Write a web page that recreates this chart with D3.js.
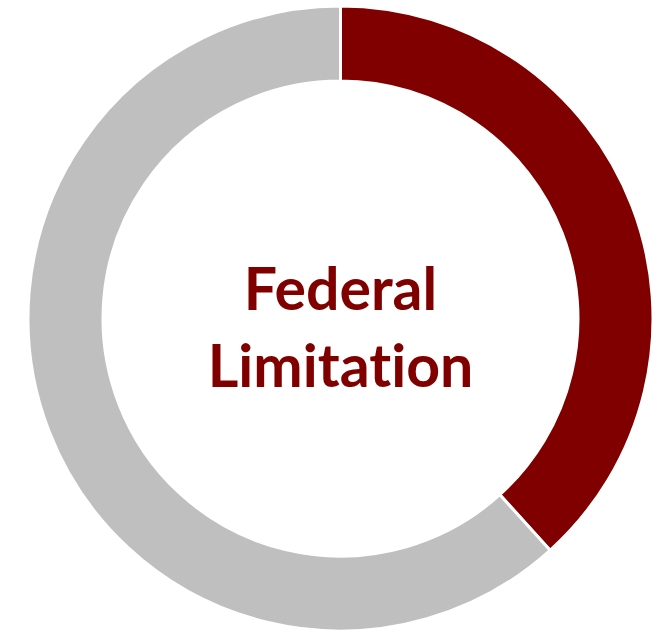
<!DOCTYPE html>
<html>
<head>
<meta charset="utf-8">
<script src="https://cdn.jsdelivr.net/npm/d3@7"></script>
<style>
  body { margin: 0; background: #fff; }
</style>
</head>
<body>
<svg id="chart" width="664" height="630"></svg>
<script>
// slice labels and shares (percent)
var categories = ["Federal Limitation", "Other"];
var values = [38.3, 61.7];
var colors = ["#800000", "#bfbfbf"];
var centerLines = ["Federal", "Limitation"];

var svg = d3.select("#chart");
var cx = 340.5, cy = 318.5;
var outerR = 312.5, innerR = 237.5;

var g = svg.append("g")
    .attr("transform", "translate(" + cx + "," + cy + ")");

var pie = d3.pie()
    .sort(null)
    .value(function(d) { return d; });

var arc = d3.arc()
    .innerRadius(innerR)
    .outerRadius(outerR);

g.selectAll("path")
    .data(pie(values))
    .enter()
    .append("path")
    .attr("d", arc)
    .attr("fill", function(d, i) { return colors[i]; })
    .attr("stroke", "#fff")
    .attr("stroke-width", 3);

// center label
g.selectAll("text.center")
    .data(centerLines)
    .enter()
    .append("text")
    .attr("class", "center")
    .attr("x", 0)
    .attr("y", function(d, i) { return -8.5 + i * 77; })
    .attr("text-anchor", "middle")
    .attr("font-family", "Lato, 'Open Sans', sans-serif")
    .attr("font-weight", "bold")
    .attr("font-size", 59)
    .style("font-variant-ligatures", "none")
    .attr("fill", "#800000")
    .text(function(d) { return d; });
</script>
</body>
</html>
